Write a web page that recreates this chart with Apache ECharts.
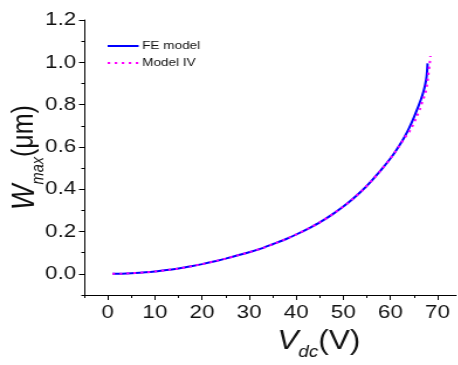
<!DOCTYPE html>
<html><head><meta charset="utf-8">
<script src="https://cdn.jsdelivr.net/npm/echarts@6/dist/echarts.min.js"></script>
<style>
html,body{margin:0;padding:0;background:#fff;overflow:hidden}
#wrap{width:458px;height:365px;overflow:hidden}
#c{width:391px;height:365px;transform:scaleX(1.17);transform-origin:0 0}
</style>
</head><body><div id="wrap"><div id="c"></div></div>
<script>
// Data
const vdcFE = [1, 3, 5, 8, 10, 13, 15, 18, 20, 23, 25, 28, 30, 33, 35, 38, 40, 43, 45, 48, 50, 52, 54, 56, 58, 60, 61, 62, 63, 64, 65, 66, 66.5, 67, 67.4, 67.7, 67.9];
const wFE   = [0.000, 0.001, 0.003, 0.007, 0.011, 0.019, 0.025, 0.037, 0.046, 0.061, 0.072, 0.090, 0.102, 0.123, 0.140, 0.166, 0.186, 0.219, 0.243, 0.286, 0.318, 0.354, 0.394, 0.440, 0.490, 0.545, 0.576, 0.610, 0.647, 0.690, 0.740, 0.795, 0.825, 0.860, 0.895, 0.935, 0.995];
const vdcIV = [1, 3, 5, 8, 10, 13, 15, 18, 20, 23, 25, 28, 30, 33, 35, 38, 40, 43, 45, 48, 50, 52, 54, 56, 58, 60, 61, 62, 63, 64.2, 65.4, 66.3, 66.8, 67.4, 67.75, 67.95, 68.15, 68.35, 68.5];
const wIV   = [0.000, 0.001, 0.003, 0.007, 0.011, 0.019, 0.025, 0.037, 0.046, 0.061, 0.072, 0.090, 0.102, 0.123, 0.140, 0.166, 0.186, 0.219, 0.243, 0.286, 0.318, 0.354, 0.394, 0.440, 0.490, 0.545, 0.576, 0.608, 0.642, 0.678, 0.733, 0.780, 0.815, 0.852, 0.891, 0.923, 0.959, 0.994, 1.030];
const xMajorTicks = [0, 10, 20, 30, 40, 50, 60, 70];
const xMinorTicks = [-5, 5, 15, 25, 35, 45, 55, 65];
const yMajorTicks = [0, 0.2, 0.4, 0.6, 0.8, 1.0, 1.2];
const yMinorTicks = [-0.1, 0.1, 0.3, 0.5, 0.7, 0.9, 1.1];
const seriesNames = ['FE model', 'Model IV'];

const FONT = 'Liberation Sans, Arial, sans-serif';
const chart = echarts.init(document.getElementById('c'), null, {renderer: 'canvas', width: 391, height: 365});
const xBase = {type: 'value', min: -5, max: 74, position: 'bottom', splitLine: {show: false}};
const yBase = {type: 'value', min: -0.1, max: 1.2, position: 'left', splitLine: {show: false}};
chart.setOption({
  animation: false,
  backgroundColor: '#fff',
  grid: {left: 72, right: 1, top: 20, bottom: 70, containLabel: false, outerBoundsMode: 'none'},
  legend: {
    orient: 'vertical', left: 91, top: 40, padding: 0, itemWidth: 26.5, itemHeight: 12, itemGap: 5,
    itemStyle: {color: 'transparent', borderColor: 'transparent', borderWidth: 0},
    textStyle: {fontFamily: FONT, fontSize: 11.6, color: '#111', padding: [0, 0, 0, -2]},
    data: seriesNames
  },
  xAxis: [
    Object.assign({}, xBase, {
      axisLine: {show: true, onZero: false, lineStyle: {color: '#000', width: 1}},
      axisTick: {show: true, inside: false, length: 5, customValues: xMajorTicks, lineStyle: {color: '#000'}},
      axisLabel: {show: true, customValues: xMajorTicks, fontFamily: FONT, fontSize: 19, color: '#111', margin: 8},
      name: '{i|V}{s|dc}{n|(V)}', nameLocation: 'middle', nameGap: 33, nameMoveOverlap: false,
      nameTextStyle: {padding: [0, 0, 0, 83], rich: {
        i: {fontFamily: FONT, fontStyle: 'italic', fontSize: 27, color: '#111'},
        s: {fontFamily: FONT, fontStyle: 'italic', fontSize: 16, color: '#111', verticalAlign: 'bottom', padding: [0, 0, -6, 0]},
        n: {fontFamily: FONT, fontSize: 27, color: '#111'}
      }}
    }),
    Object.assign({}, xBase, {
      axisLine: {show: false, onZero: false},
      axisTick: {show: true, inside: false, length: 3, customValues: xMinorTicks, lineStyle: {color: '#000'}},
      axisLabel: {show: false}
    })
  ],
  yAxis: [
    Object.assign({}, yBase, {
      axisLine: {show: true, onZero: false, lineStyle: {color: '#000', width: 1}},
      axisTick: {show: true, inside: false, length: 4.5, customValues: yMajorTicks, lineStyle: {color: '#000'}},
      axisLabel: {show: true, customValues: yMajorTicks, fontFamily: FONT, fontSize: 19, color: '#111', margin: 7,
        formatter: v => v.toFixed(1)},
      name: '{i|W}{s|max}{n|(μm)}', nameLocation: 'middle', nameGap: 37, nameRotate: 90, nameMoveOverlap: false,
      nameTextStyle: {rich: {
        i: {fontFamily: FONT, fontStyle: 'italic', fontSize: 27, color: '#111'},
        s: {fontFamily: FONT, fontStyle: 'italic', fontSize: 14.5, color: '#111', verticalAlign: 'bottom', padding: [0, 0, -5, 0]},
        n: {fontFamily: FONT, fontSize: 25, color: '#111'}
      }}
    }),
    Object.assign({}, yBase, {
      axisLine: {show: false, onZero: false},
      axisTick: {show: true, inside: false, length: 2.5, customValues: yMinorTicks, lineStyle: {color: '#000'}},
      axisLabel: {show: false}
    })
  ],
  series: [
    {name: seriesNames[0], type: 'line', smooth: 0.3, showSymbol: false, symbol: 'none', color: '#0000ff',
     lineStyle: {color: '#0000ff', width: 2}, data: vdcFE.map((v, i) => [v, wFE[i]]), z: 2},
    {name: seriesNames[1], type: 'line', smooth: 0.3, showSymbol: false, symbol: 'none', color: '#ff00ff',
     lineStyle: {color: '#ff00ff', width: 2, type: [2.2, 3.8]}, data: vdcIV.map((v, i) => [v, wIV[i]]), z: 3}
  ]
});
</script></body></html>
